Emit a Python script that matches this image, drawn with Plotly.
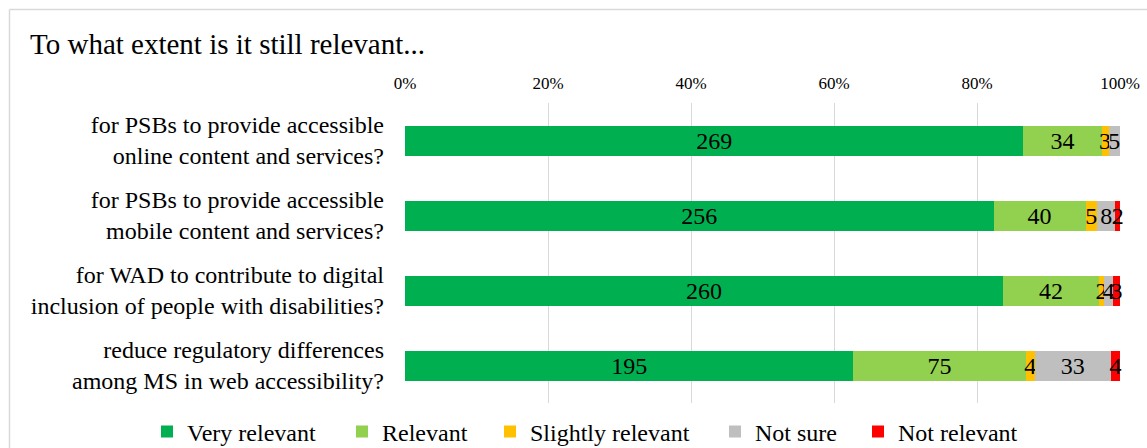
import plotly.graph_objects as go

# Survey questions (top to bottom) and response counts
questions = [
    "for PSBs to provide accessible<br>online content and services?",
    "for PSBs to provide accessible<br>mobile content and services?",
    "for WAD to contribute to digital<br>inclusion of people with disabilities?",
    "reduce regulatory differences<br>among MS in web accessibility?",
]
very_relevant = [269, 256, 260, 195]
relevant = [34, 40, 42, 75]
slightly_relevant = [3, 5, 2, 4]
not_sure = [5, 8, 4, 33]
not_relevant = [0, 2, 3, 4]

x_ticks = [0, 0.2, 0.4, 0.6, 0.8, 1.0]
x_tick_labels = ["0%", "20%", "40%", "60%", "80%", "100%"]

# name, counts, colour, legend text slot width
series = [
    ("Very relevant", very_relevant, "#00B050", 150),
    ("Relevant", relevant, "#92D050", 103),
    ("Slightly relevant", slightly_relevant, "#FFC000", 180),
    ("Not sure", not_sure, "#BFBFBF", 98),
    ("Not relevant", not_relevant, "#FF0000", 130),
]

totals = [sum(v) for v in zip(very_relevant, relevant, slightly_relevant, not_sure, not_relevant)]

FONT = "Liberation Serif, Times New Roman, serif"

fig = go.Figure()
for name, vals, color, lw in series:
    shares = [v / t for v, t in zip(vals, totals)]
    fig.add_trace(go.Bar(
        name=name,
        y=questions,
        x=shares,
        orientation="h",
        marker=dict(color=color, line=dict(width=0)),
        text=[str(v) if v > 0 else "" for v in vals],
        textposition="inside",
        insidetextanchor="middle",
        textangle=0,
        constraintext="none",
        textfont=dict(family=FONT, size=24, color="black"),
        cliponaxis=False,
        legendwidth=lw,
        hoverinfo="skip",
    ))

W, H = 1147, 448
L, R, T, B = 405, 27, 103, 45
PW, PH = W - L - R, H - T - B

def px_to_x(px):
    return (px - L) / PW

def px_to_y(py):
    return 1 - (py - T) / PH

fig.update_layout(
    width=W, height=H,
    barmode="stack",
    bargap=0.6,
    margin=dict(l=L, r=R, t=T, b=B, autoexpand=False),
    paper_bgcolor="white",
    plot_bgcolor="white",
    font=dict(family=FONT, color="black"),
    title=dict(
        text="To what extent is it still relevant...",
        font=dict(family=FONT, size=29, color="black"),
        xref="container", yref="container",
        x=30 / W, y=1 - 44 / H,
        xanchor="left", yanchor="middle",
        automargin=False,
    ),
    xaxis=dict(
        side="top",
        range=[0, 1],
        tickvals=x_ticks,
        ticktext=x_tick_labels,
        tickfont=dict(family=FONT, size=17, color="black"),
        showgrid=True,
        gridcolor="#D9D9D9",
        gridwidth=1,
        zeroline=False,
        showline=False,
        ticks="",
        ticklabelstandoff=10,
        fixedrange=True,
    ),
    yaxis=dict(
        autorange="reversed",
        tickfont=dict(family=FONT, size=24, color="black"),
        showgrid=False,
        zeroline=False,
        showline=False,
        ticks="",
        ticklabelstandoff=20,
        fixedrange=True,
    ),
    legend=dict(
        orientation="h",
        xref="paper", yref="paper",
        x=px_to_x(147), y=px_to_y(432),
        xanchor="left", yanchor="middle",
        font=dict(family=FONT, size=24, color="black"),
        traceorder="normal",
        bgcolor="rgba(0,0,0,0)",
    ),
    showlegend=True,
)

# Outer frame of the chart area (left and top edges)
frame_color = "#D9D9D9"
fig.add_shape(type="line", xref="paper", yref="paper",
              x0=px_to_x(9.5), x1=px_to_x(W + 5), y0=px_to_y(9.5), y1=px_to_y(9.5),
              line=dict(color=frame_color, width=1.5))
fig.add_shape(type="line", xref="paper", yref="paper",
              x0=px_to_x(9.5), x1=px_to_x(9.5), y0=px_to_y(9.5), y1=px_to_y(H + 5),
              line=dict(color=frame_color, width=1.5))

fig.write_html("out.html")
